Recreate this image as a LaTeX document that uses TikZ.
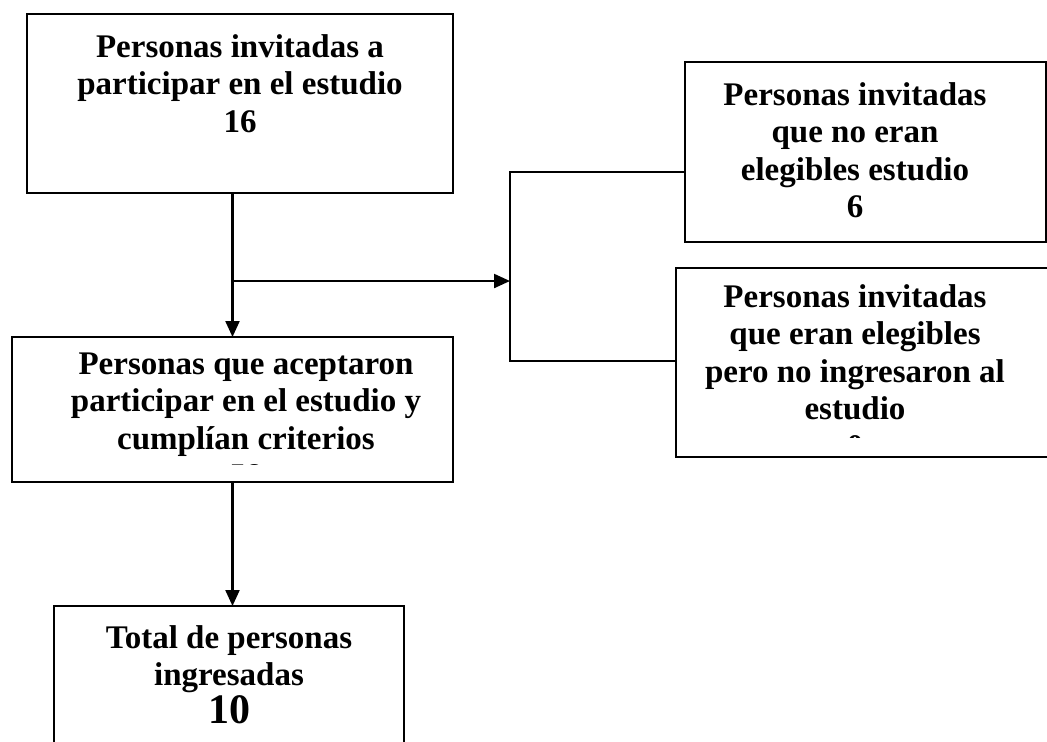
\documentclass[tikz,border=0pt]{standalone}
\usepackage{fontspec}
\setmainfont{Liberation Serif}
\usetikzlibrary{arrows.meta}

\tikzset{
caja/.style 2 args={draw=black, line width=1pt, minimum width=#1*0.5pt, minimum height=#2*0.5pt, inner sep=0pt, outer sep=0pt},
texto/.style={font=\bfseries\fontsize{16.5}{18.75}\selectfont, align=center, inner sep=0pt, anchor=north},
flecha/.style={line width=1.1pt, -{Triangle[length=8pt,width=7pt]}},
linea/.style={line width=0.8pt}
}

\begin{document}
\begin{tikzpicture}[x=0.5pt, y=-0.5pt]
\path[use as bounding box, clip] (0,0) rectangle (1047,741);

%boxes
\node[caja={426}{179}] (invit) at (240,103.5) {};
\node[caja={361}{180}] (noeleg) at (865.5,152) {};
\node[caja={384}{189}] (eleg) at (868,362.5) {};
\node[caja={441}{145}] (acep) at (232.5,409.5) {};
\node[caja={350}{154}] (total) at (229,683) {};

%texts
\node[texto] (tinvit) at (240,34) {Personas invitadas a\\participar en el estudio\\16};
\node[texto] (tnoeleg) at (855,82) {Personas invitadas\\que no eran\\elegibles estudio\\6};
\begin{scope}
\clip (eleg.north west) rectangle (1047,437);
\node[texto] (teleg) at (855,284) {Personas invitadas\\que eran elegibles\\pero no ingresaron al\\estudio\\0};
\end{scope}
\begin{scope}
\clip (acep.north west) rectangle (453,464);
\node[texto] (tacep) at (246,352) {Personas que aceptaron\\participar en el estudio y\\cumplían criterios\\58};
\end{scope}
\node[texto] (ttotal) at (229,625) {Total de personas\\ingresadas\\{\fontsize{21}{22}\selectfont 10}};

%connectors
\coordinate (cruce) at (232.5,281);
\coordinate (llave) at (510,281);
\coordinate (brazo1) at (510,172);
\coordinate (brazo2) at (510,361);
\draw[flecha] (acep.north |- invit.south) -- (acep.north);
\draw[flecha] (cruce) -- (llave);
\draw[linea] (noeleg.west |- brazo1) -- (brazo1) -- (brazo2) -- (eleg.west |- brazo2);
\draw[flecha] (acep.south) -- (acep.south |- total.north);

\end{tikzpicture}
\end{document}
